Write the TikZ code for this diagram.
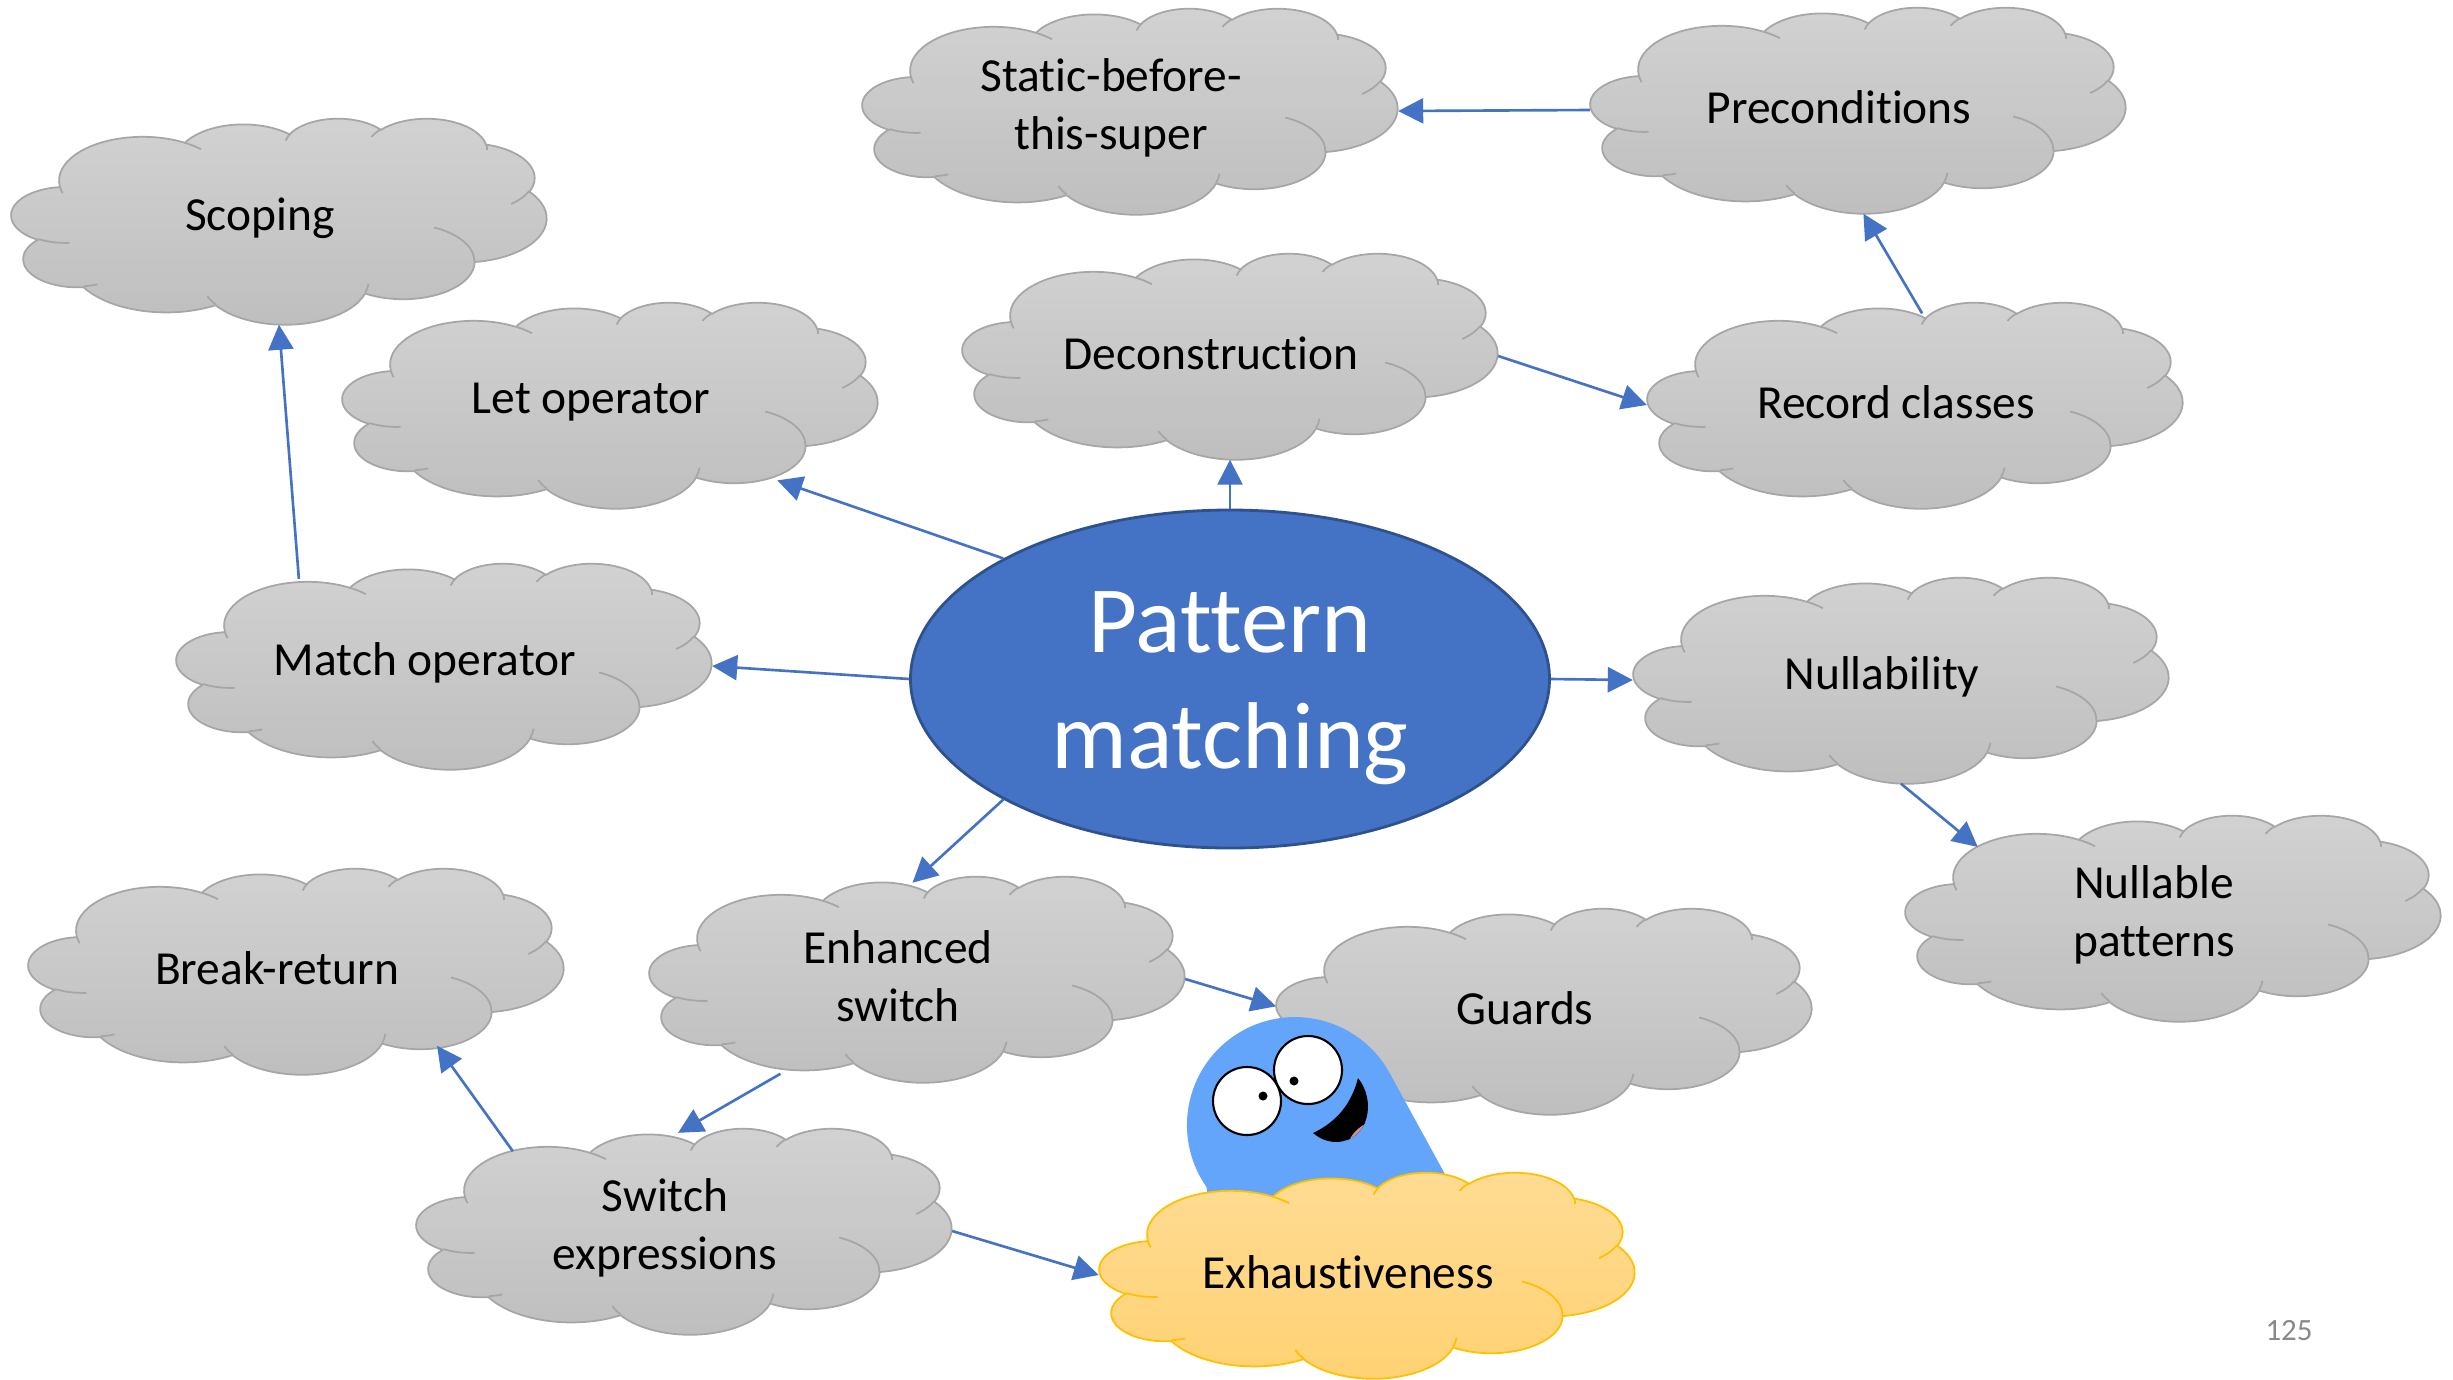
\documentclass[tikz,border=0pt]{standalone}
\usepackage{fontspec}
\setmainfont{Carlito}[Ligatures=CommonOff]
\usepackage{tikz}
\usetikzlibrary{shapes.geometric, arrows.meta}

\definecolor{arrowblue}{HTML}{4472C4}
\definecolor{hubedge}{HTML}{2F528F}
\definecolor{cloudtop}{HTML}{D2D2D2}
\definecolor{cloudbot}{HTML}{BEBEBE}
\definecolor{cloudedge}{HTML}{A6A6A6}
\definecolor{sunnytop}{HTML}{FFDC94}
\definecolor{sunnybot}{HTML}{FFD172}
\definecolor{sunnyedge}{HTML}{FFC000}
\definecolor{blobblue}{HTML}{62A5FA}
\definecolor{tongue}{HTML}{CC8BA0}
\definecolor{pagegray}{HTML}{898989}

\pgfdeclarelayer{sky}
\pgfsetlayers{sky,main}

\begin{document}
\begin{tikzpicture}[
  declare function={parang(\w,\h,\a)=atan2(\w*sin(\a),\h*cos(\a));
                    parsweep(\w,\h,\a,\s)=mod(parang(\w,\h,\a+\s)-parang(\w,\h,\a)+720,360);},
  % elliptic arc given by radii, start angle and sweep as seen on the page
  puff/.style args={#1/#2/#3/#4}{x radius=#1, y radius=#2,
              start angle={parang(#1,#2,#3)}, delta angle={parsweep(#1,#2,#3,#4)}},
  pics/skycloud/.style={code={
    \begin{scope}[xscale=5.35/216, yscale=-2.06/216, shift={(-108,-108)}]
      \path[draw=#1edge, line width=0.5pt, top color=#1top, bottom color=#1bot]
        (19.5,71.85) arc[puff=33.765/45.95/-190.4875/123.7805]
        arc[puff=26.665/36.335/-144.1024/89.9452]
        arc[puff=21.825/29.725/-145.8079/99.7230]
        arc[puff=24.285/32.975/-130.9861/117.2417]
        arc[puff=26.665/36.365/-78.7089/109.0269]
        arc[puff=33.875/46.1/-46.2673/130.269]
        arc[puff=28.925/39.335/0.625/114.0333]
        arc[puff=33.76/46.075/22.4516/115.1726]
        arc[puff=38.6/52.715/66.2426/75.7110]
        arc[puff=21.8/29.59/-274.9421/146.7356]
        arc[puff=21.725/29.725/-246.8285/152.5189] -- cycle;
      \draw[#1edge, line width=0.5pt]
        (23.465,130.885) arc[puff=21.725/29.725/86.742/26.4295]
        (34.64,174.495) arc[puff=21.8/29.59/73.6105/11.4475]
        (82.39,195.45) arc[puff=33.76/46.075/137.6242/14.0811]
        (144.135,173.755) arc[puff=33.76/46.075/6.4533/15.9984]
        (170.645,114.77) arc[puff=28.925/39.335/-70.2924/70.9174]
        (208.99,76.77) arc[puff=26.665/36.365/30.318/27.7515]
        (191.62,27.13) arc[puff=24.285/32.975/-13.7443/14.8589]
        (145.39,19.76) arc[puff=24.285/32.975/-149.1815/18.1954]
        (110.705,23.6) arc[puff=21.825/29.725/-163.4943/17.6864]
        (70.0,25.96) arc[puff=33.765/45.95/-66.707/12.3194]
        (20.635,78.945) arc[puff=33.765/45.95/157.6544/11.8582];
    \end{scope}
  }},
  lbl/.style={font=\fontsize{13.5}{16.5}\selectfont, align=center,
              xshift=-1.9mm, yshift=0.3mm},
  topic/.style={ellipse, minimum width=5.35cm, minimum height=2.06cm, inner sep=0pt,
                label={[lbl]center:#1}},
  hubtext/.style={text=white, align=center, font=\fontsize{27}{33}\selectfont,
                  yshift=-0.9mm},
  hub/.style={ellipse, draw=hubedge, line width=0.8pt, fill=arrowblue,
              minimum width=6.39cm, minimum height=3.38cm, inner sep=0pt,
              label={[hubtext]center:#1}},
  arrow/.style={-{Triangle[length=2.5mm, width=2.5mm]}, draw=arrowblue,
                line width=0.75pt},
  eye/.style={fill=white, draw=black, line width=0.6pt},
]
\useasboundingbox (0,0) rectangle (24.53,-13.79);

% topics around the hub
\node[topic=Scoping] (scoping) at (2.79,-2.21) {};
\node[topic={Static-before-\\this-super}] (static) at (11.30,-1.11) {};
\node[topic=Preconditions] (precond) at (18.58,-1.10) {};
\node[topic={Let operator}] (let) at (6.10,-4.05) {};
\node[topic=Deconstruction] (decon) at (12.30,-3.56) {};
\node[topic={Record classes}] (record) at (19.15,-4.05) {};
\node[topic={Match operator}] (match) at (4.44,-6.66) {};
\node[topic=Nullability] (nullab) at (19.01,-6.80) {};
\node[topic={Nullable\\patterns}] (nullpat) at (21.73,-9.18) {};
\node[topic=Break-return] (breakret) at (2.96,-9.71) {};
\node[topic={Enhanced\\switch}] (enh) at (9.17,-9.79) {};
\node[topic=Guards] (guards) at (15.44,-10.11) {};
\node[topic={Switch\\expressions}] (switchx) at (6.84,-12.31) {};
\node[topic=Exhaustiveness] (exh) at (13.67,-12.75) {};

\node[hub={Pattern\\matching}] (pm) at (12.30,-6.79) {};

\begin{pgfonlayer}{sky}
  \foreach \n in {scoping,static,precond,let,decon,record,match,
                  nullab,nullpat,breakret,enh,guards,switchx}
    \pic at (\n) {skycloud=cloud};

  % the blob peeking out from behind the yellow cloud
  \fill[blobblue] (12.065,-11.87) arc[start angle=215, end angle=28.6, radius=1.08]
    -- (14.92,-12.60) -- (12.15,-12.60) -- cycle;
  \filldraw[eye] (12.47,-11.01) circle (0.34);
  \filldraw[eye] (13.08,-10.70) circle (0.34);
  \fill (12.63,-10.96) circle (0.045);
  \fill (12.94,-10.81) circle (0.045);
  \begin{scope}
    \clip (13.58,-10.78) .. controls (13.76,-11.00) and (13.70,-11.40) .. (13.37,-11.42)
      .. controls (13.25,-11.42) and (13.18,-11.37) .. (13.13,-11.33)
      .. controls (13.30,-11.25) and (13.50,-11.10) .. (13.58,-10.78) -- cycle;
    \fill (13.0,-10.6) rectangle (13.9,-11.6);
    \filldraw[fill=tongue, draw=black, line width=0.4pt]
      (13.66,-11.38) ellipse [x radius=0.22, y radius=0.13, rotate=40];
  \end{scope}

  \pic at (exh) {skycloud=sunny};
\end{pgfonlayer}

\draw[arrow, shorten >=-0.9mm] (pm.152) -- (let.-24);
\draw[arrow] (pm.north) -- (decon.-90);
\draw[arrow] (pm.180) -- (match.0);
\draw[arrow] (pm.0) -- (nullab.180);
\draw[arrow, shorten >=-1.1mm] (pm.-152) -- (enh.88);
\draw[arrow] (match.149) -- (scoping.-90);
\draw[arrow] (decon.0) -- (record.180);
\draw[arrow, shorten <=-1.4mm] (record.90) -- (precond.-87);
\draw[arrow] (precond.180) -- (static.0);
\draw[arrow] (nullab.-90) -- (nullpat.160);
\draw[arrow] (enh.0) -- (guards.179);
\draw[arrow, shorten <=0.8mm, shorten >=-1.1mm] (enh.-145) -- (switchx.88);
\draw[arrow, shorten >=-1.4mm] (switchx.155) -- (breakret.-30);
\draw[arrow] (switchx.0) -- (exh.180);

\node[text=pagegray, font=\fontsize{8.8}{10}\selectfont] (page) at (22.89,-13.31) {125};
\end{tikzpicture}
\end{document}
